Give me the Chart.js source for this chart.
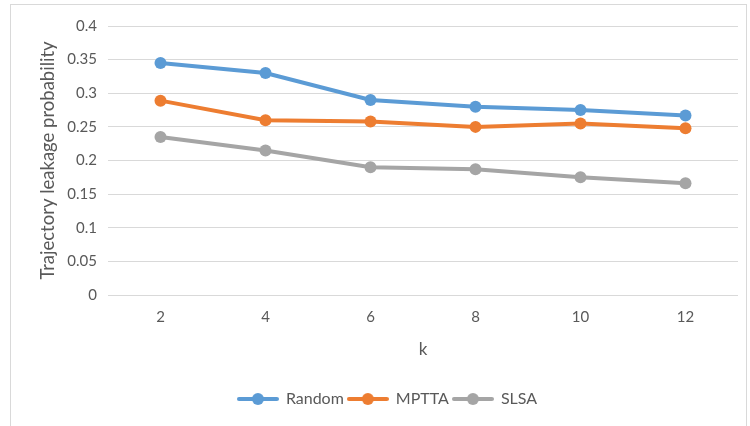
<!DOCTYPE html>
<html>
<head>
<meta charset="utf-8">
<script src="https://cdn.jsdelivr.net/npm/chart.js@4.4.1/dist/chart.umd.min.js"></script>
<style>
  html, body { margin: 0; padding: 0; background: #ffffff; }
  #wrap { width: 750px; height: 426px; position: relative; }
</style>
</head>
<body>
<div id="wrap"><canvas id="c" width="750" height="426"></canvas></div>
<script>
const categories = ['2', '4', '6', '8', '10', '12'];
const randomValues = [0.345, 0.33, 0.29, 0.28, 0.275, 0.267];
const mpttaValues = [0.289, 0.26, 0.258, 0.25, 0.255, 0.248];
const slsaValues = [0.235, 0.215, 0.19, 0.187, 0.175, 0.166];
const seriesNames = ['Random', 'MPTTA', 'SLSA'];
const seriesColors = ['#5B9BD5', '#ED7D31', '#A5A5A5'];
const xTitle = 'k';
const yTitle = 'Trajectory leakage probability';

const FONT = 'Lato';
const TEXT = '#595959';

function legendIcon(color) {
  const cv = document.createElement('canvas');
  cv.width = 42; cv.height = 14;
  const g = cv.getContext('2d');
  g.strokeStyle = color; g.lineWidth = 4; g.lineCap = 'round';
  g.beginPath(); g.moveTo(2, 7); g.lineTo(40, 7); g.stroke();
  g.fillStyle = color;
  g.beginPath(); g.arc(21, 7, 6, 0, Math.PI * 2); g.fill();
  return cv;
}

const borderPlugin = {
  id: 'frame',
  beforeDraw(chart) {
    const ctx = chart.ctx;
    ctx.save();
    ctx.fillStyle = '#ffffff';
    ctx.fillRect(0, 0, chart.width, chart.height);
    ctx.strokeStyle = '#d9d9d9';
    ctx.lineWidth = 1;
    ctx.strokeRect(10.5, 4.5, 736, 440);
    ctx.restore();
  }
};

const values = [randomValues, mpttaValues, slsaValues];
const datasets = seriesNames.map((name, i) => ({
  label: name,
  data: values[i],
  borderColor: seriesColors[i],
  backgroundColor: seriesColors[i],
  borderWidth: 4,
  pointRadius: 6,
  pointHoverRadius: 6,
  pointBorderWidth: 0,
  pointStyle: 'circle',
  tension: 0,
  fill: false
}));

new Chart(document.getElementById('c'), {
  type: 'line',
  data: { labels: categories, datasets },
  plugins: [borderPlugin],
  options: {
    responsive: false,
    animation: false,
    events: [],
    layout: { padding: { left: 37, right: 12, top: 26, bottom: 9 } },
    plugins: {
      tooltip: { enabled: false },
      legend: {
        position: 'bottom',
        labels: {
          font: { family: FONT, size: 16 },
          color: TEXT,
          usePointStyle: true,
          pointStyleWidth: 40,
          padding: 4,
          generateLabels(chart) {
            return chart.data.datasets.map((ds, i) => ({
              text: ds.label,
              pointStyle: legendIcon(seriesColors[i]),
              fillStyle: seriesColors[i],
              strokeStyle: seriesColors[i],
              lineWidth: 0,
              fontColor: TEXT,
              hidden: false,
              datasetIndex: i
            }));
          }
        }
      }
    },
    scales: {
      x: {
        offset: true,
        grid: { display: false, drawTicks: false },
        border: { display: false },
        ticks: { font: { family: FONT, size: 15 }, color: TEXT, padding: 13 },
        title: { display: true, text: xTitle, font: { family: FONT, size: 17 }, color: TEXT, padding: { top: 8, bottom: 27 } },
        afterFit(scale) { scale.height = 92; }
      },
      y: {
        min: 0, max: 0.4,
        ticks: {
          stepSize: 0.05,
          font: { family: FONT, size: 15 },
          color: TEXT,
          padding: 11,
          callback: v => String(parseFloat(v.toFixed(2)))
        },
        grid: { color: '#d9d9d9', lineWidth: 1, drawTicks: false },
        border: { display: false },
        title: { display: true, text: yTitle, font: { family: FONT, size: 18.5 }, color: TEXT, padding: { top: 0, bottom: 0 } },
        afterFit(scale) { scale.width = 71; }
      }
    }
  }
});
</script>
</body>
</html>
